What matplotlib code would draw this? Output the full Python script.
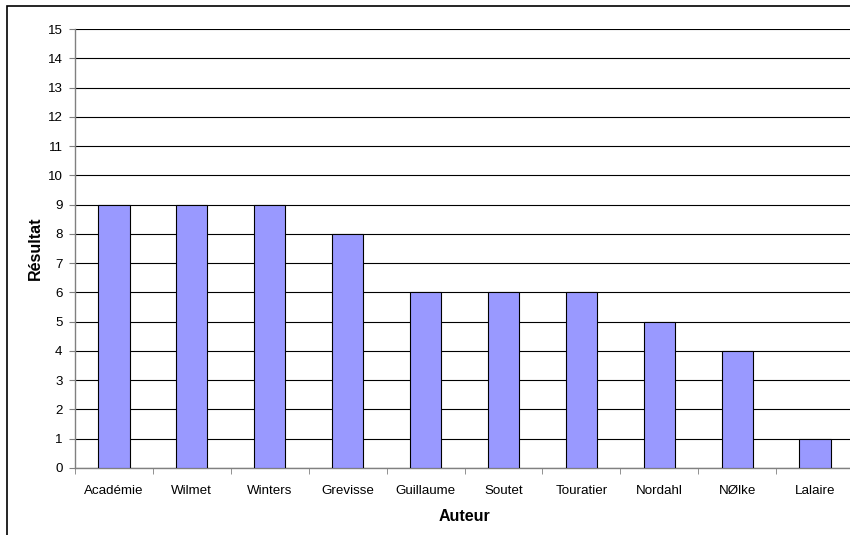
import matplotlib
matplotlib.use("Agg")
import matplotlib.pyplot as plt
from matplotlib.patches import Rectangle
import numpy as np

auteurs = ["Académie", "Wilmet", "Winters", "Grevisse", "Guillaume",
           "Soutet", "Touratier", "Nordahl", "NØlke", "Lalaire"]
resultats = [9, 9, 9, 8, 6, 6, 6, 5, 4, 1]

plt.rcParams['font.family'] = ['Liberation Sans', 'DejaVu Sans']

fig = plt.figure(figsize=(8.5, 5.35), dpi=100)
# cadre du graphique (coupe a droite et en bas)
fig.patches.append(Rectangle((7/850, -0.1), 1.2, 1 - 6/535 + 0.1,
                             transform=fig.transFigure, fill=False,
                             edgecolor="black", linewidth=1.2))

ax = fig.add_axes([75/850, 1 - 468/535, 779/850, 439/535])
x = np.arange(len(auteurs))
ax.bar(x, resultats, width=0.4, color="#9999ff", edgecolor="black",
       linewidth=0.8, zorder=3)

ax.set_xlim(-0.5, len(auteurs) - 0.5)
ax.set_ylim(0, 15)
ax.set_yticks(range(0, 16))
ax.yaxis.grid(True, color="black", linewidth=0.8, zorder=0)
ax.set_xticks(x)
ax.set_xticklabels(auteurs, fontsize=9.6)
ax.set_xticks(np.arange(-0.5, len(auteurs)), minor=True)
ax.tick_params(axis="x", which="major", length=0, pad=12)
ax.tick_params(axis="x", which="minor", length=4, color="#808080")
ax.tick_params(axis="y", length=4, color="#808080", labelsize=9.6, pad=5)

for s in ["top", "right"]:
    ax.spines[s].set_visible(False)
for s in ["left", "bottom"]:
    ax.spines[s].set_color("#808080")
    ax.spines[s].set_linewidth(1.0)

ax.set_xlabel("Auteur", fontsize=11.5, fontweight="bold", labelpad=9)
ax.set_ylabel("Résultat", fontsize=11.5, fontweight="bold", labelpad=3)

fig.savefig("out.png", dpi=100)
